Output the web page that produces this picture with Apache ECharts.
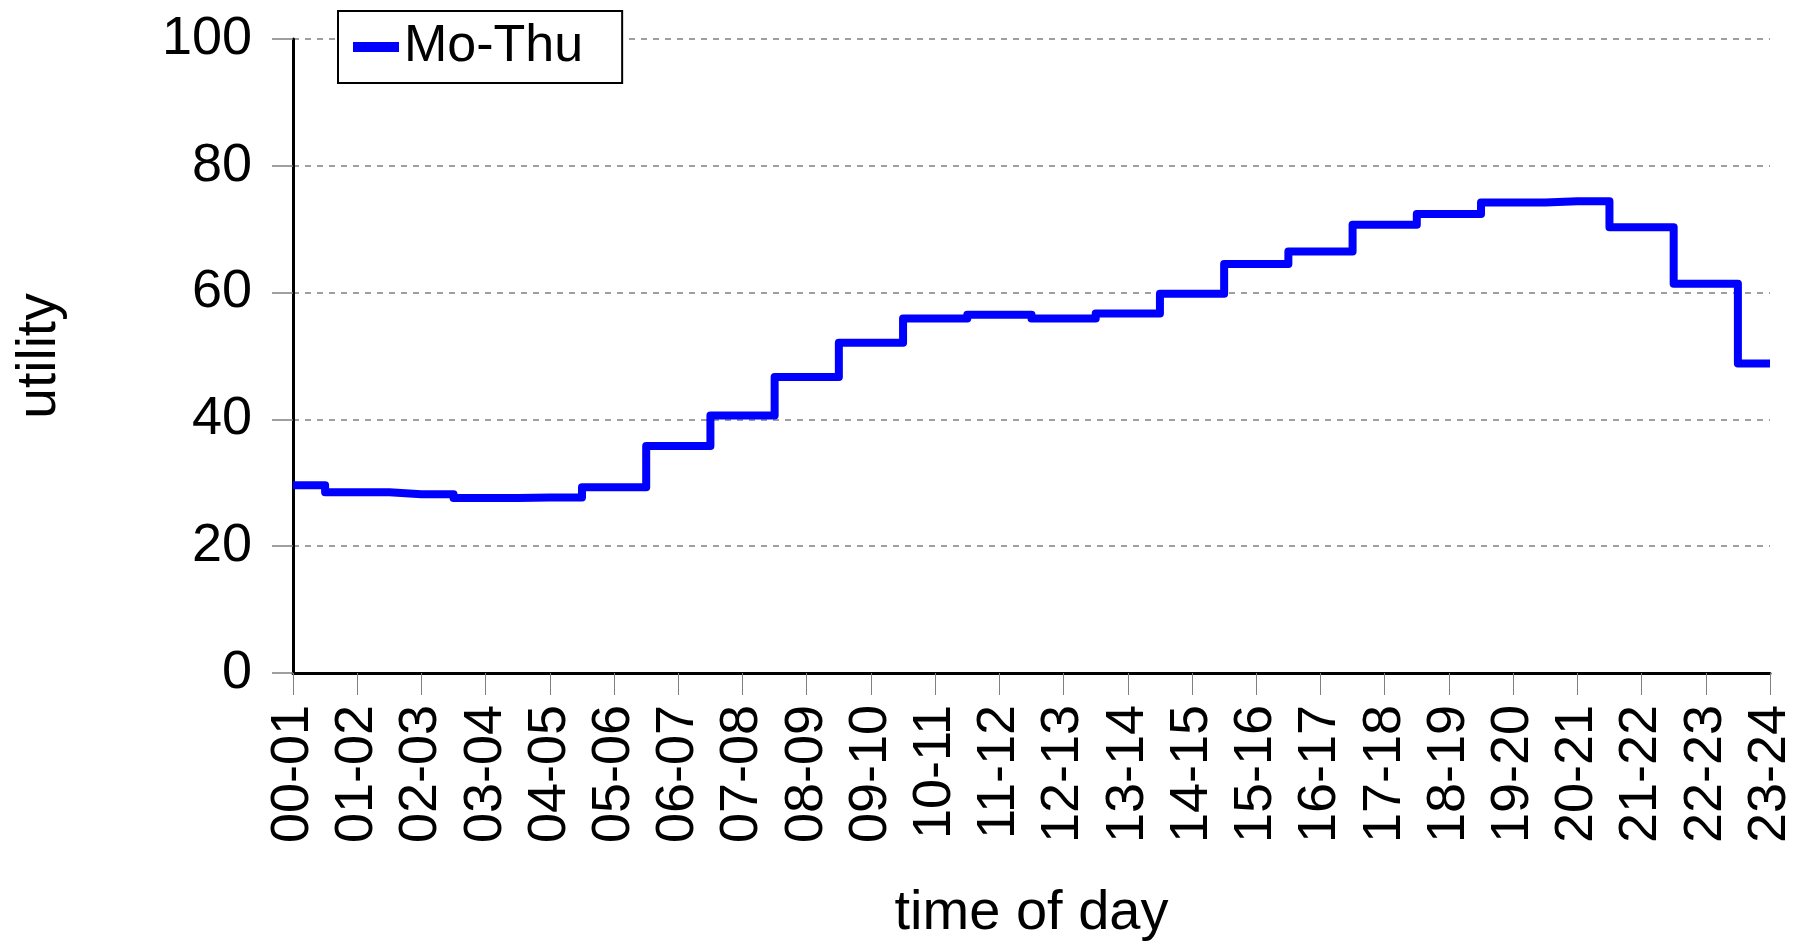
<!DOCTYPE html>
<html>
<head>
<meta charset="utf-8">
<script src="https://cdn.jsdelivr.net/npm/echarts@6/dist/echarts.min.js"></script>
<style>
html,body{margin:0;padding:0;background:#fff;}
#chart{width:1802px;height:945px;}
</style>
</head>
<body>
<div id="chart"></div>
<script>
const categories = ["00-01","01-02","02-03","03-04","04-05","05-06","06-07","07-08","08-09","09-10","10-11","11-12","12-13","13-14","14-15","15-16","16-17","17-18","18-19","19-20","20-21","21-22","22-23","23-24"];
const seriesName = "Mo-Thu";
const utility = [29.6,28.5,28.2,27.6,27.7,29.3,35.8,40.6,46.7,52.1,55.9,56.5,55.9,56.7,59.8,64.5,66.5,70.7,72.4,74.2,74.4,70.3,61.4,48.8];
const yTicks = {min:0, max:100, interval:20};
const xTitle = "time of day";
const yTitle = "utility";

const FONT = "'Liberation Sans', Arial, Helvetica, sans-serif";
const chart = echarts.init(document.getElementById('chart'), null, {renderer:'canvas'});
chart.setOption({
  animation:false,
  backgroundColor:'#fff',
  textStyle:{fontFamily:FONT},
  grid:{left:293, right:32, top:39, bottom:272, containLabel:false, outerBoundsMode:'none'},
  legend:{
    data:[seriesName],
    left:338, top:11,
    backgroundColor:'#fff',
    borderColor:'#000', borderWidth:2,
    padding:[10,39,10,15],
    itemWidth:46, itemHeight:10,
    icon:'rect',
    itemStyle:{color:'#0000ff'},
    textStyle:{fontSize:52, color:'#000', fontFamily:FONT}
  },
  xAxis:{
    type:'category',
    data:categories,
    boundaryGap:false,
    name:xTitle,
    nameLocation:'middle',
    nameGap:213,
    nameTextStyle:{fontSize:56, color:'#000', fontFamily:FONT},
    axisLine:{show:true, lineStyle:{color:'#000', width:3}},
    axisTick:{show:true, length:22, lineStyle:{color:'#808080', width:1}},
    axisLabel:{rotate:90, margin:32, fontSize:54, color:'#000', fontFamily:FONT, interval:0},
    splitLine:{show:false}
  },
  yAxis:{
    type:'value',
    min:yTicks.min, max:yTicks.max, interval:yTicks.interval,
    name:yTitle,
    nameLocation:'middle',
    nameGap:226,
    nameTextStyle:{fontSize:55, color:'#000', fontFamily:FONT},
    axisLine:{show:true, lineStyle:{color:'#000', width:3}},
    axisTick:{show:true, length:21, lineStyle:{color:'#808080', width:1.5}},
    axisLabel:{margin:41, fontSize:54, color:'#000', fontFamily:FONT},
    splitLine:{show:true, lineStyle:{color:'#808080', width:1.5, type:[6,6]}}
  },
  series:[{
    name:seriesName,
    type:'line',
    step:'middle',
    data:utility,
    symbol:'none',
    lineStyle:{color:'#0000ff', width:8, join:'round', cap:'butt'},
    itemStyle:{color:'#0000ff'}
  }]
});
</script>
</body>
</html>
